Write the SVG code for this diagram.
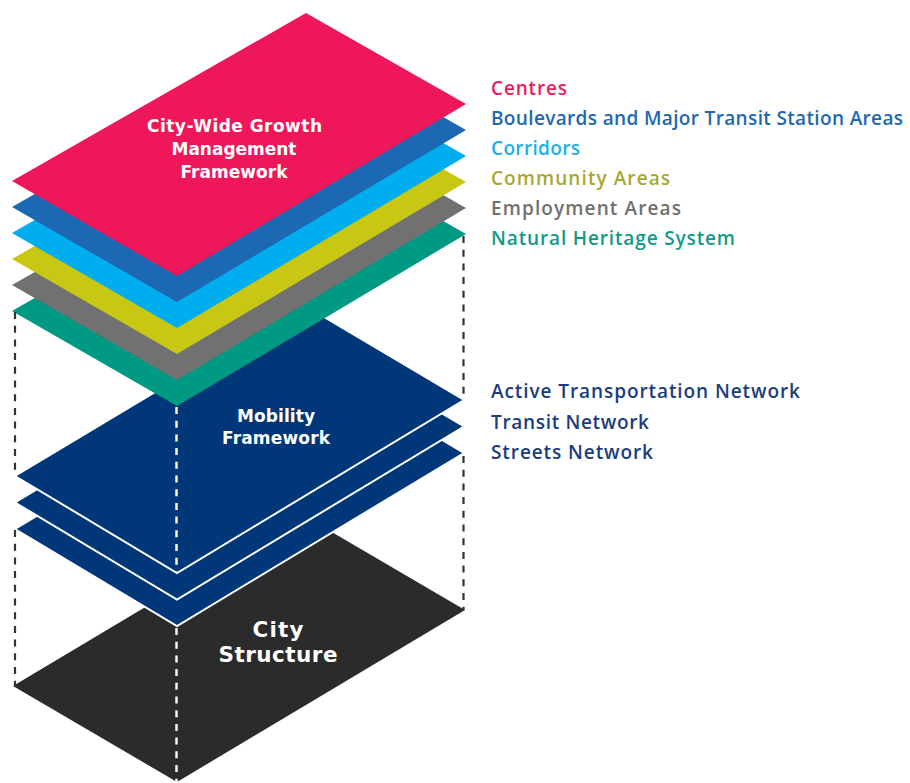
<svg xmlns="http://www.w3.org/2000/svg" width="910" height="783" viewBox="0 0 910 783">
  <style>
    .lbl { font-family: "Open Sans", "Noto Sans", sans-serif; font-weight: 600; font-size: 19px; }
    .in { font-family: "DejaVu Sans", "Liberation Sans", sans-serif; font-weight: 700; fill: #ffffff; text-anchor: middle; }
    .mob { fill: #003778; stroke: #ffffff; stroke-width: 2; stroke-linejoin: miter; }
    .dash { stroke: #333333; stroke-width: 2.2; stroke-dasharray: 7 6.7; fill: none; }
    .wdash { stroke: #ffffff; stroke-width: 2.4; stroke-dasharray: 7 6.7; fill: none; }
  </style>
  <defs>
    <polygon id="top" points="306,13 466,104 177,276 12,181"/>
    <polygon id="mid" points="302,304 464,400 177,573 15,476"/>
  </defs>
  <rect width="910" height="783" fill="#ffffff"/>

  <g id="city-structure">
    <polygon points="301,514 465,610 177,782 13,686" fill="#2b2b2b"/>
    <text class="in" x="278" y="636.5" font-size="21.5" textLength="51">City</text>
    <text class="in" x="278" y="661.5" font-size="21.5" textLength="119">Structure</text>
  </g>

  <g id="streets-network-layer">
    <use href="#mid" class="mob" transform="translate(0,53)"/>
  </g>
  <g id="transit-network-layer">
    <use href="#mid" class="mob" transform="translate(0,26.5)"/>
  </g>
  <g id="mobility-framework">
    <use href="#mid" class="mob"/>
    <text class="in" x="276" y="421.5" font-size="17" textLength="78">Mobility</text>
    <text class="in" x="276" y="444" font-size="17" textLength="108">Framework</text>
  </g>

  <g id="natural-heritage-layer">
    <use href="#top" fill="#009a84" transform="translate(0,130)"/>
  </g>
  <g id="employment-layer">
    <use href="#top" fill="#717171" transform="translate(0,104)"/>
  </g>
  <g id="community-layer">
    <use href="#top" fill="#c8c814" transform="translate(0,78)"/>
  </g>
  <g id="corridors-layer">
    <use href="#top" fill="#00aeef" transform="translate(0,52)"/>
  </g>
  <g id="boulevards-layer">
    <use href="#top" fill="#1c68b3" transform="translate(0,26)"/>
  </g>
  <g id="growth-framework">
    <use href="#top" fill="#ee1759"/>
    <text class="in" x="234.5" y="132" font-size="17" textLength="175">City-Wide Growth</text>
    <text class="in" x="234" y="155" font-size="17" textLength="125">Management</text>
    <text class="in" x="234" y="178" font-size="17" textLength="107">Framework</text>
  </g>

  <g id="connectors">
    <line class="dash" x1="15" y1="312" x2="15" y2="475"/>
    <line class="dash" x1="463.5" y1="236" x2="463.5" y2="399"/>
    <line class="dash" x1="15" y1="530" x2="15" y2="686"/>
    <line class="dash" x1="463.5" y1="456" x2="463.5" y2="610"/>
    <line class="wdash" x1="176.5" y1="407" x2="176.5" y2="572"/>
    <line class="wdash" x1="176.5" y1="628" x2="176.5" y2="782"/>
  </g>

  <g id="legend">
    <text class="lbl" x="491" y="95" fill="#ec1c5b" textLength="76">Centres</text>
    <text class="lbl" x="491" y="125" fill="#1e67b2" textLength="412">Boulevards and Major Transit Station Areas</text>
    <text class="lbl" x="491" y="155" fill="#1bb0ec" textLength="89">Corridors</text>
    <text class="lbl" x="491" y="185" fill="#a6a832" textLength="179">Community Areas</text>
    <text class="lbl" x="491" y="215" fill="#707070" textLength="190">Employment Areas</text>
    <text class="lbl" x="491" y="245" fill="#129a86" textLength="244">Natural Heritage System</text>
    <text class="lbl" x="491" y="398" fill="#1b3d7e" textLength="309">Active Transportation Network</text>
    <text class="lbl" x="491" y="428.5" fill="#1b3d7e" textLength="158">Transit Network</text>
    <text class="lbl" x="491" y="459" fill="#1b3d7e" textLength="162">Streets Network</text>
  </g>
</svg>
